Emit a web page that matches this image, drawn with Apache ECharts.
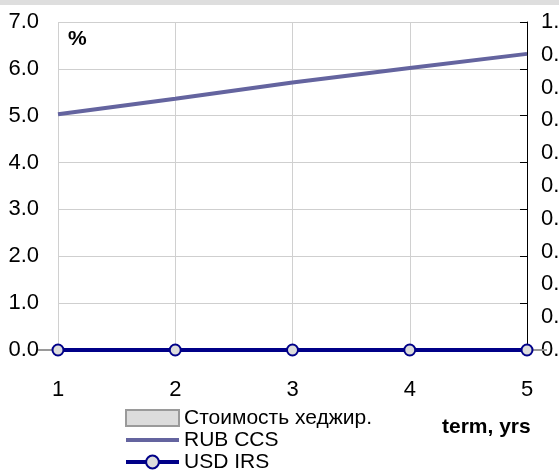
<!DOCTYPE html>
<html>
<head>
<meta charset="utf-8">
<script src="https://cdn.jsdelivr.net/npm/echarts@6/dist/echarts.min.js"></script>
<style>
  html, body { margin: 0; padding: 0; background: #fff; }
  #chart { width: 559px; height: 474px; }
</style>
</head>
<body>
<div id="chart"></div>
<script>
// данные графика
var terms = ['1', '2', '3', '4', '5'];
var hedgeCost = [0, 0, 0, 0, 0];
var rubCcs = [5.03, 5.36, 5.71, 6.02, 6.32];
var usdIrs = [0, 0, 0, 0, 0];
var seriesNames = ['Стоимость хеджир.', 'RUB CCS', 'USD IRS'];

var FONT = '"Liberation Sans", Arial, sans-serif';

var chart = echarts.init(document.getElementById('chart'));

var option = {
  backgroundColor: '#ffffff',
  animation: false,
  textStyle: { fontFamily: FONT },
  grid: { left: 58, right: 32, top: 22, bottom: 124, outerBoundsMode: 'none', containLabel: false },
  legend: {
    orient: 'vertical',
    left: 124,
    top: 407,
    height: 120,
    itemWidth: 53,
    itemHeight: 16,
    itemGap: 0,
    padding: 0,
    data: [
      { name: seriesNames[0], icon: 'rect', itemStyle: { color: '#dcdcdc', borderColor: '#9a9a9a', borderWidth: 2 } },
      // у RUB CCS в легенде только линия, без маркера
      { name: seriesNames[1], itemStyle: { opacity: 0 }, lineStyle: { width: 4, color: '#64649f' } },
      { name: seriesNames[2], lineStyle: { width: 4, color: '#000088' } }
    ],
    textStyle: { fontFamily: FONT, fontSize: 21, color: '#000', lineHeight: 22 }
  },
  xAxis: {
    type: 'category',
    data: terms,
    boundaryGap: false,
    axisLine: { show: true, lineStyle: { color: '#000', width: 1 } },
    axisTick: { show: true, length: 5, lineStyle: { color: '#000' } },
    axisLabel: { fontFamily: FONT, fontSize: 22, color: '#000', margin: 29 },
    splitLine: { show: true, lineStyle: { color: '#d0d0d0', width: 1 } }
  },
  yAxis: [
    {
      // левая ось, %
      type: 'value',
      min: 0, max: 7, interval: 1,
      position: 'left',
      axisLine: { show: false },
      axisTick: { show: false },
      axisLabel: {
        fontFamily: FONT, fontSize: 22, color: '#000', margin: 19,
        formatter: function (v) { return v.toFixed(1); }
      },
      splitLine: { show: true, lineStyle: { color: '#cfcfcf', width: 1 } }
    },
    {
      // правая ось (подписи обрезаны краем)
      type: 'value',
      min: 0, max: 1, interval: 0.1,
      position: 'right',
      axisLine: { show: true, lineStyle: { color: '#000', width: 1 } },
      axisTick: { show: false },
      axisLabel: {
        fontFamily: FONT, fontSize: 22, color: '#000', margin: 14,
        formatter: function (v) { return v.toFixed(1); }
      },
      splitLine: { show: false }
    },
    {
      // засечки правой оси
      type: 'value',
      min: 0, max: 7, interval: 1,
      position: 'right',
      axisLine: { show: false },
      axisTick: { show: true, inside: true, length: 7, lineStyle: { color: '#000' } },
      axisLabel: { show: false },
      splitLine: { show: false }
    }
  ],
  series: [
    {
      name: seriesNames[0],
      type: 'bar',
      yAxisIndex: 1,
      data: hedgeCost,
      barWidth: 40,
      itemStyle: { color: '#dcdcdc', borderColor: '#9a9a9a', borderWidth: 2 }
    },
    {
      name: seriesNames[1],
      type: 'line',
      yAxisIndex: 0,
      data: rubCcs,
      symbol: 'none',
      lineStyle: { color: '#64649f', width: 4 },
      itemStyle: { color: '#64649f' }
    },
    {
      name: seriesNames[2],
      type: 'line',
      yAxisIndex: 0,
      data: usdIrs,
      symbol: 'circle',
      symbolSize: 11,
      lineStyle: { color: '#000088', width: 4 },
      itemStyle: { color: '#dcdcdc', borderColor: '#000088', borderWidth: 2 },
      z: 5
    }
  ],
  graphic: [
    { type: 'rect', left: 0, top: 0, shape: { width: 559, height: 5 }, style: { fill: '#dedede' }, silent: true },
    { type: 'text', left: 68, top: 29, style: { text: '%', font: 'bold 21px ' + FONT, fill: '#000' } },
    { type: 'text', left: 442, top: 417, style: { text: 'term, yrs', font: 'bold 21px ' + FONT, fill: '#000' } }
  ]
};

chart.setOption(option);
</script>
</body>
</html>
